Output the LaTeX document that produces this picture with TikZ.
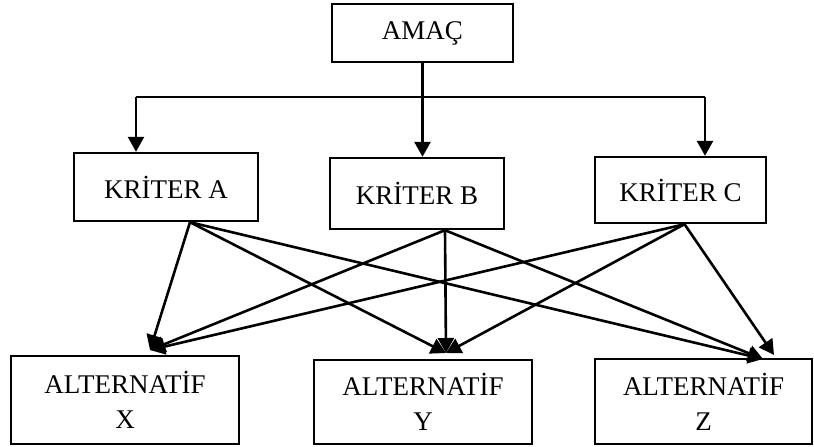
\documentclass[tikz,border=0pt]{standalone}
\usepackage{fontspec}
\setmainfont{Liberation Serif}
\usetikzlibrary{arrows.meta,calc}
\tikzset{
  box/.style={draw=black, line width=1.2pt, inner sep=0pt, align=center,
    font=\fontsize{13.5}{17.5}\selectfont},
  arr/.style={line width=1.3pt, -{Triangle[length=7.5pt,width=8pt]}}
}
\begin{document}
\begin{tikzpicture}[x=0.5pt,y=-0.5pt]
\useasboundingbox (0,0) rectangle (814,446);
\node[box, minimum width=90.5pt, minimum height=29pt] (amac) at (422.5,33) {AMAÇ};
\node[box, minimum width=92pt, minimum height=34pt] (kra) at (166,187) {KRİTER A};
\node[box, minimum width=87pt, minimum height=35.5pt] (krb) at (417,193.5) {KRİTER B};
\node[box, minimum width=85.5pt, minimum height=33pt] (krc) at (680.5,190) {KRİTER C};
\node[box, minimum width=114pt, minimum height=44pt] (altx) at (125,400) {ALTERNATİF\\X};
\node[box, minimum width=109pt, minimum height=42pt] (alty) at (423,402) {ALTERNATİF\\Y};
\node[box, minimum width=108.5pt, minimum height=42.5pt] (altz) at (703.5,401.5) {ALTERNATİF\\Z};
\coordinate (busa) at (136,97);
\coordinate (busc) at (705,97);
\draw[line width=1.3pt] (busa) -- (busc);
\draw[arr] (amac.south) -- (amac.south |- krb.north);
\draw[arr] (busa) -- (busa |- kra.north);
\draw[arr] (busc) -- (busc |- krc.north);
\coordinate (sa) at ($(kra.south)+(24,0)$);
\coordinate (sb) at ($(krb.south)+(28,0)$);
\coordinate (sc) at ($(krc.south)+(4,0)$);
\coordinate (tx) at (150,350);
\coordinate (ty) at (446,353);
\coordinate (tz) at (774,355);
\coordinate (tzb) at (763,359);
\draw[arr] (sa) -- (tx);
\draw[arr] (sa) -- (ty);
\draw[arr] (sa) -- (tzb);
\draw[arr] (sb) -- (tx);
\draw[arr] (sb) -- (ty);
\draw[arr] (sb) -- (tzb);
\draw[arr] (sc) -- (tx);
\draw[arr] (sc) -- (ty);
\draw[arr] (sc) -- (tz);
\end{tikzpicture}
\end{document}
